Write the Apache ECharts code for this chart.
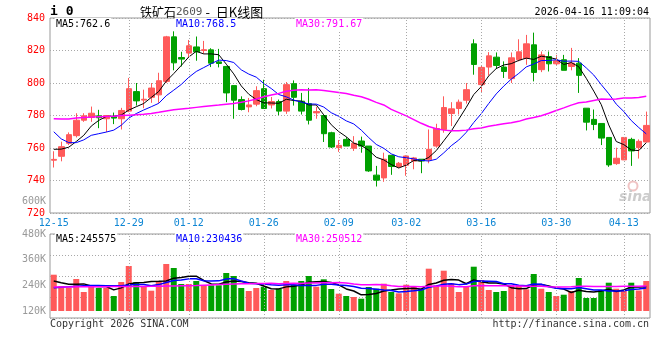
<!DOCTYPE html>
<html><head><meta charset="utf-8">
<script src="https://cdn.jsdelivr.net/npm/echarts@6/dist/echarts.min.js"></script>
<style>html,body{margin:0;padding:0;background:#fff}#c{width:660px;height:360px}</style>
</head><body><div id="c"></div>
<script>
const dates = ['12-15','12-16','12-17','12-18','12-19','12-22','12-23','12-24','12-25','12-26','12-29','12-30','12-31','01-05','01-06','01-07','01-08','01-09','01-12','01-13','01-14','01-15','01-16','01-19','01-20','01-21','01-22','01-23','01-26','01-27','01-28','01-29','01-30','02-02','02-03','02-04','02-05','02-06','02-09','02-10','02-11','02-12','02-13','02-24','02-25','02-26','02-27','03-02','03-03','03-04','03-05','03-06','03-09','03-10','03-11','03-12','03-13','03-16','03-17','03-18','03-19','03-20','03-23','03-24','03-25','03-26','03-27','03-30','03-31','04-01','04-02','04-03','04-07','04-08','04-09','04-10','04-13','04-14','04-15','04-16'];
const tickLabels = ['12-15','12-29','01-12','01-26','02-09','03-02','03-16','03-30','04-13'];

const opens = [752.5,754.9,762.9,767.6,777.1,778.8,779.8,778,779.2,778,782.7,794.7,789.5,791.2,792.7,801,828.4,815.7,818.4,822.2,820,820.4,813,810.2,798.4,789.8,785.3,787,796.5,786.5,788.6,782.7,799.6,788.8,787.3,781.6,780,769.4,760.2,765.3,759.8,764.3,761.2,743.3,741.6,755.5,748.6,749.4,752,753.1,752.7,761.2,771.4,781.2,784.3,789.4,824.1,799,809.8,815.9,809.8,802.7,814.3,815.1,823.5,808.2,816.3,811.8,814.3,810.2,812.2,784.5,777.6,775.1,766.5,750.4,752.7,765.3,760.2,763.7];
const closes = [753,760.8,768.2,777.1,779.8,781.4,778.6,780,778.4,783.1,796.5,789,790,796.9,801.4,828.4,812.4,814.7,822.9,819.2,820.5,812.2,812,793.9,789.4,783.7,786.5,795.3,784.3,788.6,782.7,799,791.2,782.7,777.1,782.4,768.8,760.6,761.6,761.2,762.9,761.2,745.9,740.2,753.1,748.6,750.6,755.1,753.9,752,759.2,772,784.9,784.1,788.2,795.9,811.4,809.6,816.7,810.8,807.1,815.5,819.2,824.1,806.5,817.3,811.8,813.7,807.8,812.2,804.7,775.9,774.5,766.1,749.6,753.7,766.5,758.2,764.1,773.9];
const lows = [748,751.8,761.8,766.5,776.1,776.1,772.2,769.8,774.7,771.4,782,786.1,784.5,787.8,787.8,800,807.8,810.2,815.9,813.7,818,809.8,809.6,788.2,778,783.1,782,785.7,784.3,784.3,780.2,781,786.1,780.6,774.5,778,763.7,760,757.6,761.2,758.2,757.1,745.3,736.3,739.2,743.5,747.6,742.9,746.9,744.5,750.6,760.2,769.4,773.5,780.6,787.3,805.1,793.9,804.5,808.6,803.1,800,813.3,811.2,801,806.7,807.1,810.8,807.8,807.8,793.9,770.8,771,761.8,748.4,749.6,752.7,749,753.5,763.7];
const highs = [758,763.9,769.6,781.4,781.4,785.5,783.5,780.3,781.8,784.7,803.1,800,795.9,800,806.3,829,831.8,819.2,826.5,828.6,825.9,821.4,821,810.2,798.4,791.8,790.8,798,802,791.4,789.8,800.6,801.6,793.9,797,785.3,780,770,764.9,766.7,767.3,767,761.2,749,757.1,755.5,751.4,755.5,754.5,753.1,771.4,774.9,791.8,788.2,789.8,800,826.9,810.6,819,818.8,813.3,818.8,826.9,829.6,831,819.4,819.4,817.3,817.3,821.6,815.3,784.5,783.7,775.1,766.5,760.2,766.5,766.3,765.3,782.4];

const ma5 = [759.2,759.3,760.5,764.0,767.8,773.5,777.0,779.4,779.6,780.3,783.3,785.4,787.4,791.1,794.8,801.1,805.8,810.8,816.0,819.5,817.9,817.9,817.4,811.6,805.6,798.2,793.1,789.8,787.8,787.7,787.5,790.0,789.2,788.8,786.5,786.5,780.4,774.3,770.1,766.9,763.0,761.5,758.6,754.3,752.7,749.8,747.7,749.5,752.3,752.0,754.2,758.4,764.4,770.4,777.7,785.0,792.9,797.8,804.4,808.9,811.1,811.9,813.9,815.3,814.5,816.5,815.8,814.7,811.4,812.6,810.0,802.9,795.0,786.7,774.2,764.0,762.1,758.8,758.4,763.3];
const ma10 = [770.0,765.6,763.3,763.3,765.0,767.8,768.8,769.8,771.0,774.0,778.4,781.2,783.4,785.4,787.5,792.2,795.6,799.1,803.5,807.1,809.5,811.9,814.1,813.8,812.6,808.1,805.5,803.6,799.7,796.6,792.9,791.5,789.5,788.3,787.1,787.0,785.2,781.7,779.5,776.7,774.8,771.0,766.4,762.2,759.8,756.4,754.6,754.0,753.3,752.4,752.0,753.1,757.0,761.4,764.9,769.6,775.7,781.1,787.4,793.3,798.1,802.4,805.9,809.9,811.7,813.8,813.9,814.3,813.4,813.5,813.3,809.3,804.9,799.0,793.4,787.0,782.5,776.9,772.6,768.7];
const ma30 = [778.0,777.8,777.8,778.4,778.8,779.0,779.2,779.4,779.6,780.0,780.2,780.4,780.8,781.3,782.0,782.8,783.5,784.0,784.4,785.0,785.5,786.0,786.4,786.9,787.4,788.1,789.0,790.2,791.5,792.6,793.6,794.9,795.6,795.8,795.7,795.8,795.4,794.8,794.2,793.5,792.4,791.5,790.0,788.1,786.5,783.8,781.8,779.8,777.5,775.2,773.2,771.9,771.0,770.6,770.6,771.0,771.8,772.3,773.4,774.1,774.9,775.5,776.4,777.8,778.8,779.9,781.4,783.1,784.7,786.4,787.8,788.3,789.2,790.1,790.0,790.1,790.7,790.8,791.1,791.8];

// volumes in thousands (K)
const volumes = [289.7,236.9,228.9,269.6,208.8,240.1,227.5,227.5,190.1,255.6,330.4,255.6,232.2,214.9,260.3,339.7,321.0,246.2,246.2,260.3,240.1,240.1,240.1,297.7,283.6,227.5,213.5,227.5,233.6,218.2,224.3,260.3,243.0,260.3,283.6,233.6,268.2,222.9,200.9,190.1,185.5,177.5,232.2,224.3,247.6,208.8,202.7,243.0,232.2,224.3,317.8,237.8,308.4,249.5,208.8,233.6,327.1,264.9,218.2,208.8,213.5,240.1,240.1,221.4,293.0,224.3,208.8,190.1,196.2,213.5,274.3,180.8,180.8,218.2,252.3,224.3,215.8,252.3,215.8,260.3];
const vma5 = [260.3,252.3,244.8,244.8,246.8,236.9,235.0,234.7,218.8,228.2,246.2,251.8,252.8,257.7,258.7,260.5,273.6,276.4,282.7,282.7,262.8,246.6,245.4,255.7,260.3,257.8,252.5,250.0,237.1,224.1,223.4,232.8,235.9,241.2,254.3,256.2,257.7,253.7,241.8,223.1,213.5,195.4,197.2,201.9,213.4,218.1,223.1,225.3,226.9,222.2,244.0,251.0,264.1,267.6,264.5,247.6,265.5,256.8,250.5,250.5,246.5,229.1,224.1,224.8,241.6,243.8,237.5,227.5,222.5,206.6,216.6,211.0,209.1,213.5,221.3,211.3,218.3,232.6,232.1,233.7];
const vma10 = [229,231,233,236,238,239,239,238,237.5,237.5,241.5,243.4,243.7,238.3,243.4,253.4,262.7,264.6,270.2,270.7,261.7,260.1,260.9,269.2,271.5,260.3,249.5,247.7,246.4,242.2,240.6,242.6,242.9,239.2,239.2,239.8,245.3,244.8,241.5,238.7,234.8,226.6,225.5,221.9,218.3,215.8,209.3,211.3,214.4,217.8,231.0,237.1,244.7,247.2,243.3,245.8,258.3,260.4,259.0,257.5,247.1,247.3,240.5,237.7,246.1,245.1,233.3,225.8,223.6,224.1,230.2,224.3,218.3,218.0,213.9,213.9,214.6,220.9,222.8,227.5];
const vma30 = [232,232,232.5,233,233,233,233.5,233.5,234,234,234.5,235,235,235.5,236,236.5,237,237.5,238,239,240.5,242,243.5,245,246,247,247.5,248,249,250.1,247.9,248.7,249.2,248.9,251.4,251.2,252.5,252.4,252.7,250.5,245.7,243.1,243.1,243.4,243.0,238.6,234.7,234.6,234.1,232.9,235.5,235.4,237.7,236.1,233.6,233.8,237.6,238.8,238.3,238.0,237.6,237.0,236.9,235.6,235.9,235.6,233.6,232.5,232.4,233.1,236.1,236.2,234.5,234.3,234.4,235.0,235.4,235.7,235.2,236.4];

const titleName = '铁矿石', titleCode = '2609', titleTail = ' -  日K线图';
const stamp = '2026-04-16 11:09:04';
const priceLegend = ['MA5:762.6', 'MA10:768.5', 'MA30:791.67'];
const volLegend = ['MA5:245575', 'MA10:230436', 'MA30:250512'];

const UP = '#ff5a5a', DOWN = '#00a000';
const MONO = '"DejaVu Sans Mono", monospace';
const GRID_LINE = {type: [1, 2], color: '#a8a8a8', width: 1};

const candles = dates.map((d, i) => [opens[i], closes[i], lows[i], highs[i]]);
const volData = volumes.map((v, i) => ({value: v, itemStyle: {color: closes[i] >= opens[i] ? UP : DOWN}}));
const labelSet = new Set(tickLabels);
const vLines = tickLabels.slice(1).map(d => ({xAxis: d}));
const markV = {symbol: ['none', 'none'], silent: true, animation: false, label: {show: false}, lineStyle: GRID_LINE, emphasis: {disabled: true}, data: vLines};

const L = 50, R = 10;
const chart = echarts.init(document.getElementById('c'), null, {renderer: 'canvas', width: 660, height: 360});

function txt(x, y, text, fill, align, font, extra) {
  return Object.assign({type: 'text', x: x, y: y, z: 100, silent: true,
    style: {text: text, fill: fill, font: font || ('10px ' + MONO), textAlign: align || 'left', textVerticalAlign: 'middle'}}, extra || {});
}
function legendTxt(x, y, text, fill) {
  const t = txt(x, y, text, fill);
  t.style.backgroundColor = '#fff';
  t.style.padding = [1, 1];
  return t;
}

const lineS = (name, data, color, w, xi, yi) => ({
  type: 'line', name: name, data: data, xAxisIndex: xi, yAxisIndex: yi, symbol: 'none', smooth: false,
  lineStyle: {color: color, width: w}, itemStyle: {color: color}, silent: true, animation: false, z: 3
});

chart.setOption({
  animation: false,
  backgroundColor: '#fff',
  grid: [
    {left: L, right: R, top: 18, height: 195, show: true, borderColor: '#999', borderWidth: 1, backgroundColor: 'transparent'},
    {left: L, right: R, top: 234, height: 84, show: true, borderColor: '#999', borderWidth: 1, backgroundColor: 'transparent'},
    {left: L, right: R, top: 234, height: 77, show: false}
  ],
  xAxis: [
    {type: 'category', gridIndex: 0, data: dates, boundaryGap: true,
     axisLine: {show: false}, axisTick: {show: false}, splitLine: {show: false},
     axisLabel: {color: '#0e86d4', fontFamily: MONO, fontSize: 10, margin: 5,
       interval: (i, v) => labelSet.has(v), showMinLabel: true, hideOverlap: false}},
    {type: 'category', gridIndex: 1, data: dates, boundaryGap: true, show: false},
    {type: 'category', gridIndex: 2, data: dates, boundaryGap: true, show: false}
  ],
  yAxis: [
    {type: 'value', gridIndex: 0, min: 720, max: 840, interval: 20, scale: true,
     axisLine: {show: false}, axisTick: {show: false},
     axisLabel: {color: '#ff0000', fontFamily: MONO, fontSize: 10, margin: 5},
     splitLine: {show: true, lineStyle: GRID_LINE}},
    {type: 'value', gridIndex: 1, min: 0, max: 4, interval: 1,
     axisLine: {show: false}, axisTick: {show: false}, axisLabel: {show: false},
     splitLine: {show: true, lineStyle: GRID_LINE}},
    {type: 'value', gridIndex: 2, min: 120, max: 480, interval: 120,
     axisLine: {show: false}, axisTick: {show: false}, splitLine: {show: false},
     axisLabel: {color: '#999', fontFamily: MONO, fontSize: 10, margin: 4, formatter: v => v + 'K'}}
  ],
  series: [
    {type: 'line', name: 'gridP', data: [], xAxisIndex: 0, yAxisIndex: 0, z: 1, markLine: markV},
    {type: 'line', name: 'gridV', data: [], xAxisIndex: 1, yAxisIndex: 1, z: 1, markLine: markV},
    {type: 'candlestick', name: 'K', data: candles, xAxisIndex: 0, yAxisIndex: 0, barWidth: 6, z: 2,
     itemStyle: {color: UP, color0: DOWN, borderColor: UP, borderColor0: DOWN, borderWidth: 1}, silent: true, animation: false},
    lineS('MA5', ma5, '#000000', 1, 0, 0),
    lineS('MA10', ma10, '#0000ff', 1, 0, 0),
    lineS('MA30', ma30, '#ff00ff', 1.5, 0, 0),
    {type: 'bar', name: 'VOL', data: volData, xAxisIndex: 2, yAxisIndex: 2, barWidth: 6, clip: true, z: 2, silent: true, animation: false},
    lineS('VMA5', vma5, '#000000', 1.5, 2, 2),
    lineS('VMA10', vma10, '#0000ff', 1.5, 2, 2),
    lineS('VMA30', vma30, '#ff00ff', 1.5, 2, 2)
  ],
  graphic: [
    txt(50, 12, 'i 0', '#000', 'left', 'bold 13px ' + MONO),
    {type: 'text', x: 140, y: 12, z: 100, silent: true, style: {
      text: '{a|' + titleName + '}{b|' + titleCode + '}{c|' + titleTail + '}',
      textVerticalAlign: 'middle',
      rich: {a: {font: '12px "Noto Sans CJK SC"', fill: '#000'}, b: {font: '11px ' + MONO, fill: '#555'},
             c: {font: '13px "Noto Sans CJK SC"', fill: '#000'}}}},
    txt(649, 12, stamp, '#000', 'right'),
    legendTxt(55, 24, priceLegend[0], '#000'),
    legendTxt(175, 24, priceLegend[1], '#0000ff'),
    legendTxt(295, 24, priceLegend[2], '#ff00ff'),
    legendTxt(55, 239, volLegend[0], '#000'),
    legendTxt(175, 239, volLegend[1], '#0000ff'),
    legendTxt(295, 239, volLegend[2], '#ff00ff'),
    txt(46, 201, '600K', '#999', 'right'),
    txt(50, 324, 'Copyright 2026 SINA.COM', '#333'),
    txt(649, 324, 'http://finance.sina.com.cn', '#333', 'right'),
    {type: 'circle', z: 5, silent: true, shape: {cx: 633, cy: 186, r: 4.5}, style: {fill: 'none', stroke: '#f0c4c4', lineWidth: 2}},
    txt(619, 197, 'sina', '#cccccc', 'left', 'italic bold 14px "DejaVu Sans"', {z: 5})
  ]
});
</script>
</body></html>
